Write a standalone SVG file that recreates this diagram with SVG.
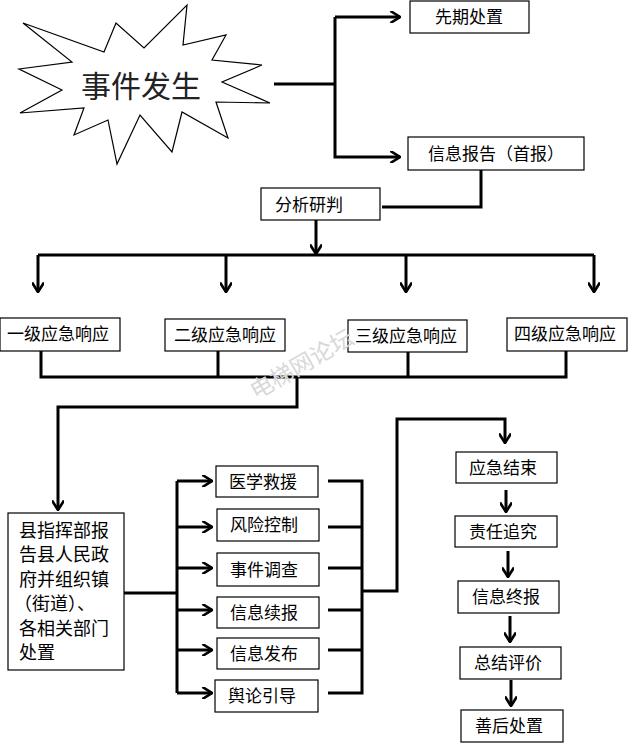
<svg xmlns="http://www.w3.org/2000/svg" width="628" height="743" viewBox="0 0 628 743">
<style>
.b{fill:#fff;stroke:#000;stroke-width:1.2}
.t{font-family:"Noto Sans CJK SC",sans-serif;font-size:17px;fill:#000}
.c{fill:none;stroke:#000;stroke-width:3}
</style>
<defs>
<marker id="a" viewBox="0 0 10 10" refX="9" refY="5" markerWidth="4" markerHeight="4" orient="auto" markerUnits="strokeWidth"><path d="M1,0 L9,5 L1,10" fill="none" stroke="#000" stroke-width="2.2"/></marker>
</defs>
<rect width="628" height="743" fill="#fff"/>
<g id="star"><polygon class="b" stroke-width="2" points="23,23 104,52 116,23 144,48 187,5 183,45 226,35 212,60 262,65 222,82 270,103 216,102 228,138 182,112 172,152 140,115 117,164 108,120 74,135 84,108 20,113 62,90 19,69 72,62"/>
<text x="141" y="97" text-anchor="middle" class="t" style="font-size:30px;fill:#222">事件发生</text></g>
<g id="n1"><rect class="b" x="410" y="1" width="119" height="32"/><text class="t" x="469" y="23" text-anchor="middle">先期处置</text></g>
<g id="n2"><rect class="b" x="408" y="137" width="176" height="33"/><text class="t" x="496" y="160" text-anchor="middle">信息报告（首报）</text></g>
<g id="n3"><rect class="b" x="261" y="188" width="119" height="32"/><text class="t" x="309" y="211" text-anchor="middle">分析研判</text></g>
<g id="l1"><rect class="b" x="0" y="318" width="120" height="33"/><text class="t" x="58" y="340" text-anchor="middle">一级应急响应</text></g>
<g id="l2"><rect class="b" x="165" y="319" width="120" height="32"/><text class="t" x="225" y="341" text-anchor="middle">二级应急响应</text></g>
<g id="l3"><rect class="b" x="348" y="320" width="119" height="32"/><text class="t" x="406" y="342" text-anchor="middle">三级应急响应</text></g>
<g id="l4"><rect class="b" x="507" y="318" width="120" height="33"/><text class="t" x="565" y="340" text-anchor="middle">四级应急响应</text></g>
<g id="county"><rect class="b" x="8" y="513" width="116" height="157"/>
<g class="t" style="font-size:18px"><text x="19" y="537">县指挥部报</text><text x="19" y="561">告县人民政</text><text x="19" y="586">府并组织镇</text><text x="14" y="610">（街道）、</text><text x="19" y="635">各相关部门</text><text x="19" y="659">处置</text></g></g>
<g id="m1"><rect class="b" x="216" y="466" width="102" height="31"/><text class="t" x="263" y="488" text-anchor="middle">医学救援</text></g>
<g id="m2"><rect class="b" x="217" y="509" width="102" height="32"/><text class="t" x="264" y="531" text-anchor="middle">风险控制</text></g>
<g id="m3"><rect class="b" x="217" y="553" width="102" height="33"/><text class="t" x="264" y="576" text-anchor="middle">事件调查</text></g>
<g id="m4"><rect class="b" x="217" y="597" width="102" height="31"/><text class="t" x="264" y="619" text-anchor="middle">信息续报</text></g>
<g id="m5"><rect class="b" x="217" y="638" width="102" height="31"/><text class="t" x="264" y="660" text-anchor="middle">信息发布</text></g>
<g id="m6"><rect class="b" x="215" y="680" width="103" height="32"/><text class="t" x="262" y="702" text-anchor="middle">舆论引导</text></g>
<g id="r1"><rect class="b" x="456" y="452" width="101" height="31"/><text class="t" x="503" y="474" text-anchor="middle">应急结束</text></g>
<g id="r2"><rect class="b" x="455" y="516" width="102" height="31"/><text class="t" x="503" y="538" text-anchor="middle">责任追究</text></g>
<g id="r3"><rect class="b" x="458" y="581" width="101" height="32"/><text class="t" x="506" y="603" text-anchor="middle">信息终报</text></g>
<g id="r4"><rect class="b" x="460" y="647" width="101" height="32"/><text class="t" x="508" y="669" text-anchor="middle">总结评价</text></g>
<g id="r5"><rect class="b" x="461" y="710" width="102" height="32"/><text class="t" x="509" y="732" text-anchor="middle">善后处置</text></g>
<g id="connectors" class="c">
<path d="M274,84 H335"/>
<path d="M335,17 V157 H400" marker-end="url(#a)"/>
<path d="M335,17 H400" marker-end="url(#a)"/>
<path d="M481,170 V207 H382"/>
<path d="M316,220 V254" marker-end="url(#a)"/>
<path d="M38,255 H594"/>
<path d="M38,255 V292" marker-end="url(#a)"/>
<path d="M226,255 V292" marker-end="url(#a)"/>
<path d="M406,255 V292" marker-end="url(#a)"/>
<path d="M594,255 V292" marker-end="url(#a)"/>
<path d="M41,351 V377 H566 V351"/>
<path d="M218,351 V377 M408,352 V377"/>
<path d="M297,377 V407 H58 V510" marker-end="url(#a)"/>
<path d="M124,593 H177 M177,481 V693"/>
<path d="M177,481 H212" marker-end="url(#a)"/>
<path d="M177,527 H212" marker-end="url(#a)"/>
<path d="M177,568 H212" marker-end="url(#a)"/>
<path d="M177,610 H212" marker-end="url(#a)"/>
<path d="M177,650 H212" marker-end="url(#a)"/>
<path d="M177,693 H212" marker-end="url(#a)"/>
<path d="M328,481 H362 V693 H328 M328,527 H362 M328,568 H362 M328,610 H362 M328,650 H362"/>
<path d="M362,591 H397 V419 H505 V443" marker-end="url(#a)"/>
<path d="M506,490 V512" marker-end="url(#a)"/>
<path d="M508,551 V577" marker-end="url(#a)"/>
<path d="M510,616 V642" marker-end="url(#a)"/>
<path d="M511,680 V706" marker-end="url(#a)"/>
</g>
<text x="0" y="0" transform="translate(256,400) rotate(-30)" style="font-family:'Noto Sans CJK SC',sans-serif;font-size:23px;fill:#d8d8d8">电梯网论坛</text>
</svg>
